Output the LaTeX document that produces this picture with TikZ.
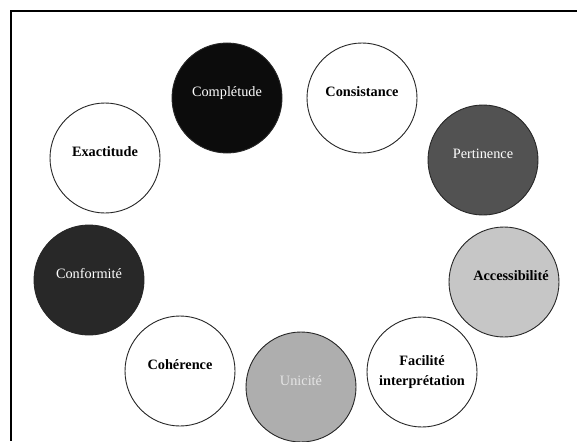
\documentclass[tikz,border=0pt]{standalone}
\usepackage{fontspec}
\setmainfont{Liberation Serif}
\definecolor{qualblack}{RGB}{12, 12, 12}
\definecolor{qualdeep}{RGB}{40, 40, 40}
\definecolor{qualmid}{RGB}{82, 82, 82}
\definecolor{qualgrey}{RGB}{174, 174, 174}
\definecolor{qualpale}{RGB}{198, 198, 198}
\tikzset{
  qual/.style={circle, draw=black!85, line width=0.9pt, minimum size=110pt, inner sep=0pt,
    align=center, text height=10pt, text depth=13pt},
  qualdark/.style={qual, fill=#1, text=white, font=\fontsize{14.3}{20}\selectfont},
  quallight/.style={qual, fill=#1, font=\fontsize{14.3}{20}\selectfont\bfseries},
}

\begin{document}
\begin{tikzpicture}[x=1pt, y=-1pt]
  \useasboundingbox (0,0) rectangle (577,441);
  % cadre
  \draw[line width=2pt] (577,11) -- (11,11) -- (11,441);

  % dimensions de la qualite
  \node[quallight=white] (exact) at (105,158) {Exactitude};
  \node[qualdark=qualblack] (compl) at (227,98) {Complétude};
  \node[quallight=white] (consist) at (362,98) {Consistance};
  \node[qualdark=qualmid] (pertin) at (483,160) {Pertinence};
  \node[quallight=qualpale] (access) at (504,282) {\hspace*{14pt}Accessibilité};
  \node[quallight=white, text height=, text depth=] (facil) at (422,372) {Facilité\\interprétation};
  \node[qualdark=qualgrey, text=white!90!black] (unic) at (301,387) {Unicité};
  \node[quallight=white] (coher) at (180,371) {Cohérence};
  \node[qualdark=qualdeep] (conform) at (89,280) {Conformité};
\end{tikzpicture}
\end{document}
